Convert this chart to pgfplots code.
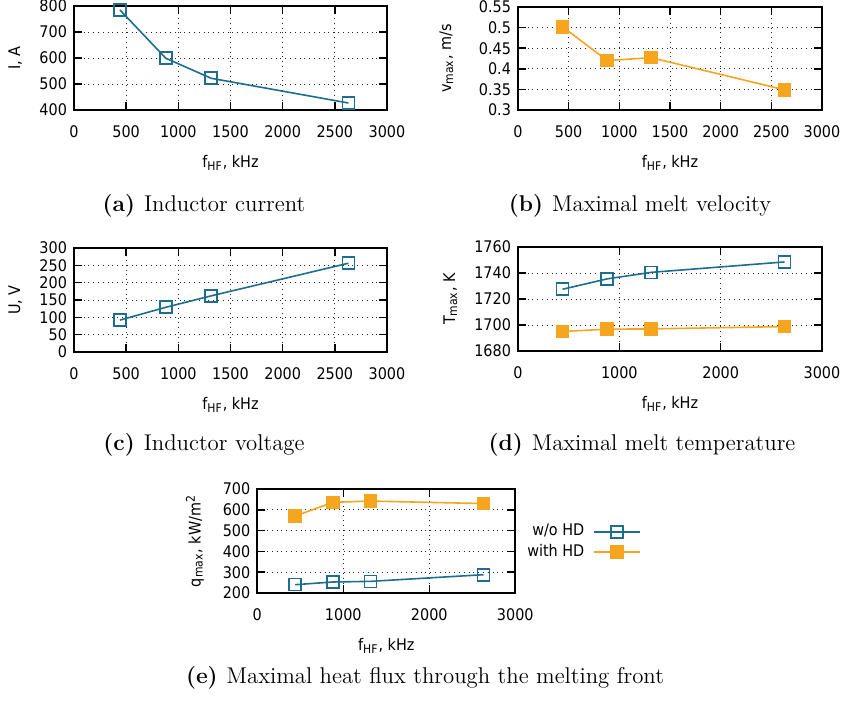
\documentclass[border=0pt]{standalone}
\usepackage{fontspec}
\usepackage{pgfplots}
\pgfplotsset{compat=1.18}
\newfontfamily\gp{DejaVu Sans Condensed}
\definecolor{cblue}{RGB}{28,110,140}
\definecolor{corange}{RGB}{245,165,30}
\newcommand{\gpf}{\gp\fontsize{8}{9.5}\selectfont}
\newcommand{\capf}{\fontsize{11.4}{13}\selectfont}
\pgfplotsset{
  gpstyle/.style={
    scale only axis,
    anchor=north west,
    xmin=0, xmax=3000,
    axis line style={line width=0.9pt},
    every tick/.style={black, line width=0.8pt},
    major tick length=4pt,
    grid=major,
    grid style={dotted, black!85, line width=0.5pt},
    tick label style={font=\gpf},
    label style={font=\gpf},
    /pgf/number format/assume math mode=true,
    /pgf/number format/set thousands separator={},
    scaled ticks=false,
    xticklabel style={anchor=base, yshift=-13.5pt},
    xlabel style={at={(axis description cs:0.5,0)}, anchor=base, yshift=-28.5pt},
    xlabel={f\textsubscript{HF}, kHz},
  },
  blueline/.style={color=cblue, line width=0.8pt, mark=square, mark size=3pt, mark options={solid, line width=0.8pt}},
  orangeline/.style={color=corange, line width=0.8pt, mark=square*, mark size=3pt, mark options={solid, fill=corange}},
}
\begin{document}
\begin{tikzpicture}
\useasboundingbox (0,0) rectangle (427.5pt,-350.5pt);

% (a)
\begin{axis}[gpstyle, at={(37pt,-3pt)}, width=156.5pt, height=52pt,
  ymin=400, ymax=800, ytick={400,500,600,700,800},
  xtick={0,500,1000,1500,2000,2500,3000},
  ylabel={I, A},
  ylabel style={at={(axis description cs:-0.1725,0.5)}, anchor=base}]
\addplot[blueline] coordinates {(440,785) (880,599) (1315,522) (2630,427)};
\end{axis}

% (b)
\begin{axis}[gpstyle, at={(259pt,-3.5pt)}, width=152pt, height=51.5pt,
  ymin=0.3, ymax=0.55, ytick={0.3,0.35,0.4,0.45,0.5,0.55},
  xtick={0,500,1000,1500,2000,2500,3000},
  ylabel={v\textsubscript{max}, m/s},
  ylabel style={at={(axis description cs:-0.22,0.5)}, anchor=base}]
\addplot[orangeline] coordinates {(440,0.502) (880,0.420) (1315,0.427) (2630,0.349)};
\end{axis}

% (c)
\begin{axis}[gpstyle, at={(37pt,-124pt)}, width=156.5pt, height=52pt,
  ymin=0, ymax=300, ytick={0,50,100,150,200,250,300},
  xtick={0,500,1000,1500,2000,2500,3000},
  ylabel={U, V},
  ylabel style={at={(axis description cs:-0.1725,0.5)}, anchor=base}]
\addplot[blueline] coordinates {(440,92) (880,129) (1315,162) (2630,256)};
\end{axis}

% (d)
\begin{axis}[gpstyle, at={(259pt,-123.5pt)}, width=152pt, height=52pt,
  ymin=1680, ymax=1760, ytick={1680,1700,1720,1740,1760},
  xtick={0,1000,2000,3000},
  ylabel={T\textsubscript{max}, K},
  ylabel style={at={(axis description cs:-0.207,0.5)}, anchor=base}]
\addplot[blueline] coordinates {(440,1727.5) (880,1735.5) (1315,1740.5) (2630,1748.5)};
\addplot[orangeline] coordinates {(440,1695) (880,1696.8) (1315,1697) (2630,1698.8)};
\end{axis}

% (e)
\begin{axis}[gpstyle, at={(128.65pt,-244.5pt)}, width=129pt, height=52pt,
  ymin=200, ymax=700, ytick={200,300,400,500,600,700},
  xtick={0,1000,2000,3000},
  ylabel={q\textsubscript{max}, kW/m\textsuperscript{2}},
  ylabel style={at={(axis description cs:-0.22,0.5)}, anchor=base},
  legend style={draw=none, fill=none, at={(1.51,0.49)}, anchor=east,
    font=\gpf, row sep=1.5pt, column sep=4pt,
    nodes={inner sep=0.5pt, text height=5.8pt, text depth=1.8pt}},
  legend cell align=right,
  legend plot pos=right,
  legend image code/.code={\draw[mark repeat=2,mark phase=2,#1] plot coordinates {(0pt,0pt) (11.4pt,0pt) (22.8pt,0pt)};}]
\addplot[blueline] coordinates {(440,240) (880,253) (1315,256) (2630,288)};
\addlegendentry{w/o HD}
\addplot[orangeline] coordinates {(440,570) (880,636) (1315,642) (2630,630)};
\addlegendentry{with HD}
\end{axis}

\node[anchor=base, font=\capf] at (102pt,-105.5pt) {\textbf{(a)}\hspace{4.5pt}Inductor current};
\node[anchor=base, font=\capf] at (320pt,-105.5pt) {\textbf{(b)}\hspace{4.5pt}Maximal melt velocity};
\node[anchor=base, font=\capf] at (102pt,-225.3pt) {\textbf{(c)}\hspace{4.5pt}Inductor voltage};
\node[anchor=base, font=\capf] at (321pt,-225.3pt) {\textbf{(d)}\hspace{4.5pt}Maximal melt temperature};
\node[anchor=base, font=\capf] at (212.5pt,-341.5pt) {\textbf{(e)}\hspace{4.5pt}Maximal heat flux through the melting front};
\end{tikzpicture}
\end{document}
